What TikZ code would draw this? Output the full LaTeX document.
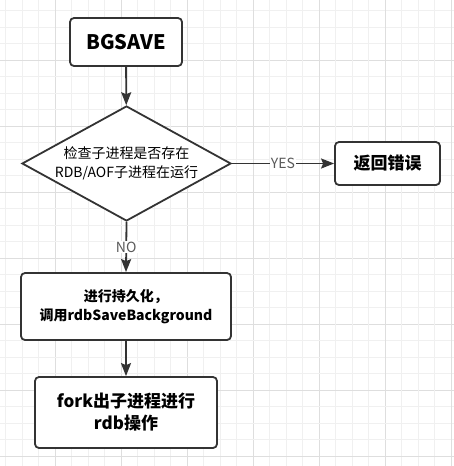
\documentclass[tikz,border=0pt]{standalone}
\usepackage{fontspec}
\setmainfont{Noto Sans CJK SC}
\usetikzlibrary{arrows.meta,shapes.geometric}

\begin{document}
\begin{tikzpicture}[x=1pt,y=-1pt,
  box/.style={draw=black!80,line width=1.8pt,rounded corners=4pt,fill=white,align=center,font=\bfseries},
  decision/.style={draw=black!80,line width=1.8pt,diamond,aspect=1.82,fill=white,inner sep=0pt,minimum width=209pt,minimum height=115pt,align=center},
  flow/.style={draw=black!80,line width=1.8pt,-{Stealth[length=13pt,width=10pt,inset=2pt]}},
  answer/.style={fill=white,text=black!65,inner sep=1pt,font=\fontsize{14}{16}\selectfont}]
\useasboundingbox (0,0) rectangle (454,466);
\fill[white] (0,0) rectangle (454,466);
\foreach \k in {0,...,27}{
  \pgfmathsetmacro\gx{5.5+16.5*\k}
  \pgfmathsetmacro\gy{10.5+16.5*\k}
  \pgfmathtruncatemacro\major{mod(\k,4)==3}
  \ifnum\major=1 \def\gc{black!13}\else\def\gc{black!6}\fi
  \draw[\gc,line width=0.8pt] (\gx,0) -- (\gx,466);
  \draw[\gc,line width=0.8pt] (0,\gy) -- (454,\gy);
}
\node[box,minimum width=112pt,minimum height=48pt,font=\fontsize{20}{22}\selectfont\bfseries] (bgsave) at (126,42) {BGSAVE};
\node[decision,font=\fontsize{14}{19}\selectfont] (check) at (126.5,163.5) {检查子进程是否存在\\RDB/AOF子进程在运行};
\node[box,minimum width=105pt,minimum height=43pt,font=\fontsize{17}{20}\selectfont\bfseries] (err) at (387.5,163.5) {返回错误};
\node[box,minimum width=210pt,minimum height=67pt,font=\fontsize{14}{19}\selectfont\bfseries] (persist) at (126,306.5) {进行持久化，\\调用rdbSaveBackground};
\node[box,minimum width=182pt,minimum height=71pt,font=\fontsize{17}{22}\selectfont\bfseries] (fork) at (126,412.5) {fork出子进程进行\\rdb操作};
\draw[flow] (bgsave) -- (check);
\draw[flow] (check.east) -- (err.west) node[answer,midway] {YES};
\draw[flow] (check.south) -- (persist.north) node[answer,midway] {NO};
\draw[flow] (persist) -- (fork);
\end{tikzpicture}
\end{document}
